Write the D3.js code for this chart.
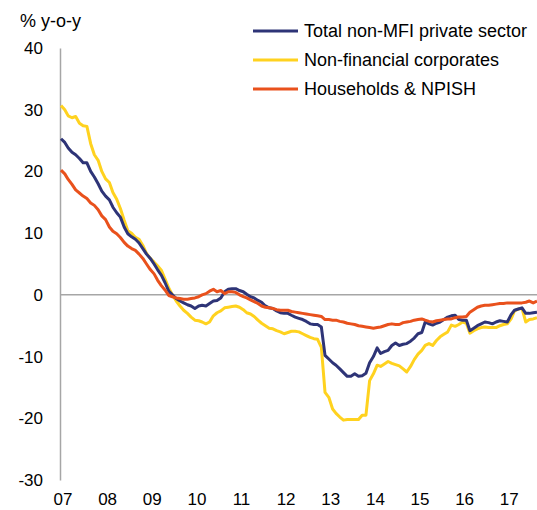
<!DOCTYPE html>
<html>
<head>
<meta charset="utf-8">
<script src="https://cdn.jsdelivr.net/npm/d3@7"></script>
<style>
  body { margin: 0; background: #fff; }
  svg { display: block; font-family: "Liberation Sans", Arial, sans-serif; }
</style>
</head>
<body>
<svg id="chart"></svg>
<script>
// monthly y-o-y growth, Jan 2007 onwards
let startMonth = new Date(2007, 0, 1)

let totalPrivate = [
  25.3, 24.7, 23.8, 23.1, 22.7, 22.1, 21.4, 21.4, 20.0, 19.1, 18.0, 16.8,
  16.0, 15.4, 14.2, 13.3, 12.6, 11.0, 9.9, 9.4, 9.0, 8.4, 7.5, 6.6,
  5.9, 5.0, 4.1, 3.2, 2.0, 0.6, 0.0, -0.6, -1.0, -1.3, -1.6, -1.8,
  -2.2, -1.8, -1.7, -1.8, -1.4, -1.0, -0.9, -0.5, 0.5, 0.9, 1.0, 1.0,
  0.7, 0.5, 0.1, -0.3, -0.5, -0.9, -1.2, -1.8, -2.1, -2.2, -2.6, -2.9,
  -3.0, -3.0, -3.3, -3.6, -3.8, -4.0, -4.3, -4.7, -4.8, -4.8, -5.2, -9.8,
  -10.4, -11.0, -11.4, -12.0, -12.6, -13.2, -13.2, -12.8, -13.2, -13.1, -12.7, -11.0,
  -10.0, -8.6, -9.5, -9.2, -9.0, -8.2, -7.8, -8.2, -8.0, -7.9, -7.5, -7.0,
  -6.3, -6.1, -4.4, -4.7, -4.9, -4.6, -4.4, -4.0, -3.6, -3.4, -3.3, -4.0,
  -4.1, -4.1, -5.8, -5.4, -5.0, -4.7, -4.4, -4.5, -4.7, -4.4, -4.2, -4.3,
  -4.4, -3.2, -2.5, -2.3, -2.1, -3.0, -3.0, -2.9, -2.8
]

let nonFinCorp = [
  30.7, 30.0, 29.0, 28.7, 28.9, 27.8, 27.4, 27.3, 24.5, 22.7, 21.8, 20.0,
  18.8, 18.2, 16.6, 15.5, 14.0, 12.1, 10.4, 10.0, 9.3, 9.0, 8.0, 6.7,
  5.9, 5.3, 4.7, 4.0, 2.6, 1.1, 0.0, -1.0, -1.8, -2.5, -3.0, -3.6,
  -4.1, -4.2, -4.4, -4.7, -4.4, -3.4, -2.9, -2.6, -2.1, -2.0, -1.9, -1.8,
  -2.0, -2.4, -2.9, -3.1, -3.5, -4.1, -4.6, -5.0, -5.4, -5.5, -5.8, -6.0,
  -6.3, -6.1, -5.9, -5.9, -6.0, -6.3, -6.6, -6.9, -7.1, -7.2, -8.5, -15.8,
  -16.6, -18.5, -19.2, -19.8, -20.3, -20.2, -20.2, -20.2, -20.2, -19.5, -19.5, -13.9,
  -12.8, -11.4, -11.6, -11.2, -10.8, -11.1, -11.3, -11.5, -12.0, -12.5, -11.6, -10.5,
  -9.6, -9.0, -8.2, -7.9, -8.2, -7.4, -6.8, -6.4, -6.0, -4.9, -5.1, -4.8,
  -4.4, -4.6, -6.2, -5.8, -5.5, -5.3, -5.2, -5.3, -5.3, -5.3, -5.0, -4.8,
  -4.7, -3.9, -2.6, -2.3, -2.2, -4.4, -4.0, -3.9, -3.7
]

let households = [
  20.2, 19.6, 18.7, 17.9, 17.0, 16.5, 16.0, 15.6, 14.9, 14.5, 13.8, 12.8,
  12.2, 11.0, 10.3, 9.9, 9.3, 8.5, 7.9, 7.5, 7.2, 6.6, 5.9, 5.0,
  4.1, 3.4, 2.4, 1.5, 0.8, -0.1, -0.3, -0.5, -0.6, -0.7, -0.7, -0.6,
  -0.5, -0.3, 0.0, 0.2, 0.6, 0.9, 0.5, 0.7, 0.2, 0.5, 0.5, 0.4,
  0.0, -0.3, -0.5, -0.8, -1.1, -1.4, -1.8, -2.0, -2.1, -2.2, -2.4, -2.5,
  -2.5, -2.5, -2.7, -2.8, -2.9, -3.0, -3.1, -3.2, -3.3, -3.4, -3.5, -4.0,
  -4.0, -4.1, -4.1, -4.3, -4.4, -4.6, -4.7, -4.8, -5.0, -5.1, -5.2, -5.3,
  -5.4, -5.3, -5.2, -5.0, -4.8, -4.7, -4.8, -4.8, -4.5, -4.4, -4.3, -4.1,
  -4.0, -3.9, -4.1, -4.3, -4.4, -4.2, -4.1, -4.0, -3.9, -3.9, -3.7, -3.6,
  -3.6, -3.5, -2.8, -2.4, -2.0, -1.8, -1.7, -1.7, -1.6, -1.5, -1.4, -1.4,
  -1.3, -1.3, -1.3, -1.3, -1.3, -1.2, -1.0, -1.3, -1.0
]

let seriesNames = ['Total non-MFI private sector', 'Non-financial corporates', 'Households & NPISH']
let seriesColors = ['#2e3477', '#ffd21f', '#e9511c']
let yTicks = [-30, -20, -10, 0, 10, 20, 30, 40]
let yearTicks = d3.range(2007, 2018)

let width = 537
let height = 510
let font = '"Liberation Sans", Arial, sans-serif'

let svg = d3.select('#chart').attr('width', width).attr('height', height)

let dates = totalPrivate.map((d, i) => d3.timeMonth.offset(startMonth, i))

let xScale = d3.scaleTime()
  .domain([startMonth, d3.timeMonth.offset(startMonth, 128)])
  .range([61, 537])
let yScale = d3.scaleLinear().domain([-30, 40]).range([480, 48])

// y axis, plain hyphen for negatives
let yAxis = d3.axisLeft(yScale).tickValues(yTicks)
  .tickFormat(d => String(d))
  .tickSize(0).tickPadding(17)
let gy = svg.append('g').attr('transform', 'translate(60,0)').call(yAxis)
gy.select('.domain').attr('stroke', '#a6a6a6').attr('stroke-width', 1.5)
gy.selectAll('text').attr('font-size', 17).attr('fill', '#000').attr('font-family', font)

// x axis labels
let xAxis = d3.axisBottom(xScale)
  .tickValues(yearTicks.map(y => new Date(y, 0, 1)))
  .tickFormat(d3.timeFormat('%y'))
  .tickSize(0).tickPadding(11)
let gx = svg.append('g').attr('transform', 'translate(0,482)').call(xAxis)
gx.select('.domain').remove()
gx.selectAll('text').attr('font-size', 17).attr('fill', '#000').attr('dx', 1.5)
  .attr('font-family', font)

// zero line
svg.append('line')
  .attr('x1', 60).attr('x2', width)
  .attr('y1', yScale(0)).attr('y2', yScale(0))
  .attr('stroke', '#a6a6a6').attr('stroke-width', 1.5)

svg.append('text').attr('x', 20).attr('y', 27)
  .attr('font-size', 18).text('% y-o-y')

let line = d3.line()
  .x((d, i) => xScale(dates[i]))
  .y(d => yScale(d))

let allSeries = [totalPrivate, nonFinCorp, households]
let drawOrder = [1, 0, 2]
drawOrder.forEach(function(k){
  svg.append('path')
    .datum(allSeries[k])
    .attr('d', line)
    .attr('fill', 'none')
    .attr('stroke', seriesColors[k])
    .attr('stroke-width', 3)
    .attr('stroke-linejoin', 'round')
})

// legend
let legend = svg.append('g')
seriesNames.forEach(function(name, i){
  let y = 31 + i * 29
  legend.append('line')
    .attr('x1', 253).attr('x2', 298).attr('y1', y).attr('y2', y)
    .attr('stroke', seriesColors[i]).attr('stroke-width', 3)
  legend.append('text')
    .attr('x', 304).attr('y', y).attr('dy', '0.35em')
    .attr('font-size', 18).text(name)
})
</script>
</body>
</html>
